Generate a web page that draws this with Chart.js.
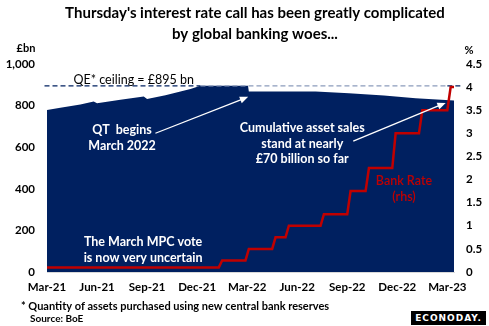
<!DOCTYPE html>
<html>
<head>
<meta charset="utf-8">
<script src="https://cdn.jsdelivr.net/npm/chart.js@4"></script>
<style>
  html, body { margin: 0; padding: 0; background: #fff; }
  #wrap { position: relative; width: 489px; height: 326px; }
  #logo {
    position: absolute; left: 411px; top: 311px; width: 75px; height: 14px;
    background: #000; color: #fff; font: bold 9px "DejaVu Sans", sans-serif;
    letter-spacing: 1px; text-align: center; line-height: 14px; overflow: hidden;
  }
</style>
</head>
<body>
<div id="wrap">
  <canvas id="myChart" width="489" height="326"></canvas>
  <div id="logo">ECONODAY.</div>
</div>
<script>
// months counted from Mar-21
const tickLabels = ['Mar-21', 'Jun-21', 'Sep-21', 'Dec-21', 'Mar-22',
    'Jun-22', 'Sep-22', 'Dec-22', 'Mar-23'];

// asset purchase facility stock, £bn
const apfMonths = [0, 0.8, 2, 2.8, 3, 4.4, 5.8, 6, 7.1, 8, 8.6, 9.2, 12.05, 12.1, 16.1, 18.1, 20.2, 22.1, 24.4];
const apfValues = [779, 790, 805, 820, 811, 828, 844, 832, 850, 868, 880, 895, 895, 868, 868, 859, 848, 835, 825];

// Bank Rate, %
const rateMonths = [0, 10.3, 10.5, 11.9, 12.1, 13.5, 13.7, 14.3, 14.5, 16.4, 16.6, 18.0, 18.2, 19.1, 19.3, 20.7, 20.9, 22.3, 22.5, 24.0, 24.2, 24.4];
const rateValues = [0.1, 0.1, 0.25, 0.25, 0.5, 0.5, 0.75, 0.75, 1.0, 1.0, 1.25, 1.25, 1.75, 1.75, 2.25, 2.25, 3.0, 3.0, 3.5, 3.5, 4.0, 4.0];

const ceiling = 895;
const ceilingMonths = [-0.15, 9.2, 24.0, 24.9];

const navy = '#002060';
const red = '#c00000';
const font = 'Lato, "Open Sans", sans-serif';

const toPts = (xs, ys) => xs.map((x, i) => ({ x: x, y: ys[i] }));

// text notes placed in data units (month, £bn)
const notes = [
    { t: 'QE* ceiling = £895 bn', m: 5.2, v: 921, c: '#000', w: 'normal' },
    { t: 'QT  begins', m: 4.5, v: 682, c: '#fff', w: 'bold' },
    { t: 'March 2022', m: 4.5, v: 605, c: '#fff', w: 'bold' },
    { t: 'Cumulative asset sales', m: 15.3, v: 691, c: '#fff', w: 'bold' },
    { t: 'stand at nearly', m: 15.3, v: 617, c: '#fff', w: 'bold' },
    { t: '£70 billion so far', m: 15.3, v: 543, c: '#fff', w: 'bold' },
    { t: 'Bank Rate', m: 21.4, v: 438, c: red, w: '600' },
    { t: '(rhs)', m: 21.4, v: 361, c: red, w: '600' },
    { t: 'The March MPC vote', m: 5.76, v: 146, c: '#fff', w: 'bold' },
    { t: 'is now very uncertain', m: 5.76, v: 69, c: '#fff', w: 'bold' }
];
const arrows = [
    { m0: 6.5, v0: 667, m1: 12.06, v1: 842 },
    { m0: 18.36, v0: 629, m1: 23.9, v1: 813 }
];

const extras = {
    id: 'extras',
    afterDatasetsDraw(chart) {
        const c = chart.ctx;
        const xs = chart.scales.x, ys = chart.scales.y;
        c.save();
        c.textAlign = 'center';
        c.textBaseline = 'middle';
        notes.forEach(n => {
            c.fillStyle = n.c;
            c.font = n.w + ' 12.5px ' + font;
            c.fillText(n.t, xs.getPixelForValue(n.m), ys.getPixelForValue(n.v));
        });
        c.strokeStyle = '#fff';
        c.fillStyle = '#fff';
        c.lineWidth = 1.3;
        arrows.forEach(a => {
            const x0 = xs.getPixelForValue(a.m0), y0 = ys.getPixelForValue(a.v0);
            const x1 = xs.getPixelForValue(a.m1), y1 = ys.getPixelForValue(a.v1);
            const ang = Math.atan2(y1 - y0, x1 - x0);
            c.beginPath();
            c.moveTo(x0, y0);
            c.lineTo(x1 - 6 * Math.cos(ang), y1 - 6 * Math.sin(ang));
            c.stroke();
            c.beginPath();
            c.moveTo(x1, y1);
            c.lineTo(x1 - 9 * Math.cos(ang - 0.4), y1 - 9 * Math.sin(ang - 0.4));
            c.lineTo(x1 - 9 * Math.cos(ang + 0.4), y1 - 9 * Math.sin(ang + 0.4));
            c.closePath();
            c.fill();
        });
        // titles and footnotes
        c.fillStyle = '#000';
        c.font = 'bold 15px ' + font;
        c.fillText("Thursday's interest rate call has been greatly complicated", 255, 13);
        c.fillText('by global banking woes...', 255, 34);
        c.font = 'bold 11px ' + font;
        c.fillText('£bn', 26, 48);
        c.fillText('%', 469, 50);
        c.textAlign = 'left';
        c.font = 'bold 11px ' + font;
        c.fillText('* Quantity of assets purchased using new central bank reserves', 21, 306);
        c.font = 'bold 10px ' + font;
        c.fillText('Source: BoE', 30, 319);
        c.restore();
    }
};

const tickFont = { family: font, size: 11.5, weight: 'bold' };

new Chart(document.getElementById('myChart'), {
    type: 'line',
    data: {
        datasets: [{
            label: 'Bank Rate',
            data: toPts(rateMonths, rateValues),
            yAxisID: 'y1',
            borderColor: red,
            borderWidth: 2.5,
            pointRadius: 0,
            fill: false,
            order: 1
        }, {
            label: 'QE ceiling',
            data: toPts(ceilingMonths, ceilingMonths.map(() => ceiling)),
            yAxisID: 'y',
            borderColor: navy,
            borderWidth: 1.2,
            borderDash: [5, 3],
            pointRadius: 0,
            fill: false,
            segment: {
                borderColor: ctx => (ctx.p0.parsed.x > 9 && ctx.p0.parsed.x < 23) ? '#8c9cbc' : navy
            },
            clip: false,
            order: 2
        }, {
            label: 'APF',
            data: toPts(apfMonths, apfValues),
            yAxisID: 'y',
            backgroundColor: navy,
            borderWidth: 0,
            pointRadius: 0,
            fill: 'origin',
            order: 3
        }]
    },
    options: {
        responsive: false,
        animation: false,
        layout: { padding: { top: 64, left: 0, right: 0, bottom: 0 } },
        plugins: { legend: { display: false }, tooltip: { enabled: false } },
        scales: {
            x: {
                type: 'linear',
                min: 0,
                max: 24.4,
                grid: { display: false, drawTicks: false },
                border: { display: true, color: '#d9d9d9' },
                ticks: {
                    font: tickFont, color: '#000', padding: 8, maxRotation: 0,
                    callback: v => tickLabels[Math.round(v / 3)]
                },
                afterBuildTicks: s => { s.ticks = tickLabels.map((l, i) => ({ value: i * 3 })); },
                afterFit: s => { s.height = 54; }
            },
            y: {
                position: 'left',
                min: 0,
                max: 1000,
                grid: { display: false, drawTicks: false },
                border: { display: false },
                ticks: {
                    stepSize: 200, font: tickFont, color: '#000', padding: 12,
                    callback: v => v.toLocaleString('en-GB')
                },
                afterFit: s => { s.width = 47; }
            },
            y1: {
                position: 'right',
                min: 0,
                max: 4.5,
                grid: { display: false, drawTicks: false },
                border: { display: false },
                ticks: {
                    stepSize: 0.5, font: tickFont, color: '#000', padding: 12,
                    callback: v => String(Math.round(v * 10) / 10)
                },
                afterFit: s => { s.width = 35; }
            }
        }
    },
    plugins: [extras]
});
</script>
</body>
</html>
